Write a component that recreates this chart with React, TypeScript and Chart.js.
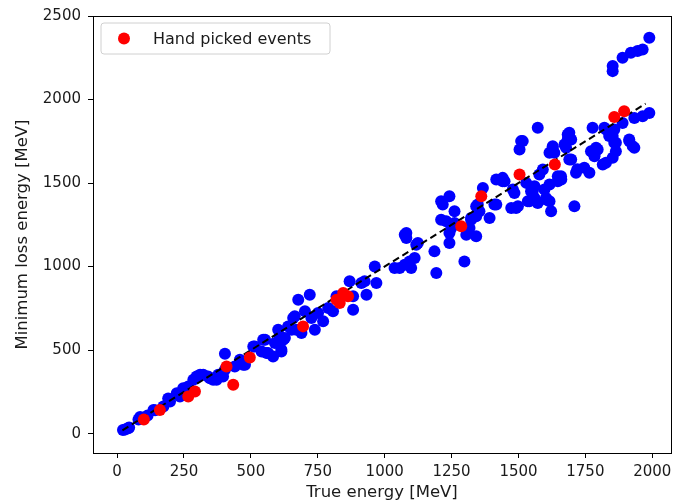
import React, { useEffect, useRef } from "react";
import { Chart, registerables } from "chart.js";

Chart.register(...registerables);

const xTicks = [0, 250, 500, 750, 1000, 1250, 1500, 1750, 2000];
const yTicks = [0, 500, 1000, 1500, 2000, 2500];

const blueX = [22,30,42,45,80,86,114,136,142,173,191,198,223,235,247,260,266,285,297,303,310,322,340,347,359,372,378,384,396,403,403,440,459,471,478,509,515,540,546,553,559,564,583,590,602,608,614,614,621,627,639,652,658,664,670,677,689,702,720,726,739,751,770,789,807,820,869,882,882,913,925,932,963,969,1037,1056,1075,1093,1099,1112,1075,1081,1081,1118,1124,1186,1193,1211,1211,1217,1230,1242,1242,1242,1249,1261,1261,1298,1305,1317,1323,1323,1342,1342,1342,1348,1354,1367,1392,1410,1417,1417,1441,1441,1448,1473,1479,1485,1491,1498,1504,1510,1516,1529,1535,1541,1547,1553,1560,1560,1566,1572,1572,1578,1591,1597,1603,1603,1616,1616,1616,1622,1628,1628,1634,1647,1647,1659,1660,1672,1678,1684,1684,1690,1690,1697,1697,1709,1715,1720,1746,1765,1771,1777,1784,1784,1790,1796,1815,1821,1827,1827,1839,1852,1852,1858,1858,1864,1864,1889,1914,1914,1927,1933,1933,1964,1989,1852,1852,1889,1920,1945,1964,1989];
const blueY = [22,24,32,36,84,100,108,142,140,162,210,192,242,222,272,272,282,322,342,342,352,352,342,332,322,322,352,352,342,382,478,402,442,412,412,522,522,492,562,562,482,482,462,542,622,582,502,492,562,572,642,622,692,702,622,802,602,732,832,692,622,722,672,752,732,822,912,742,822,902,912,832,1001,902,991,991,1011,1031,991,1051,1191,1171,1201,1131,1141,1091,961,1391,1281,1371,1271,1201,1141,1421,1231,1331,1261,1031,1191,1231,1291,1281,1181,1361,1301,1371,1331,1471,1291,1371,1521,1371,1511,1531,1511,1351,1461,1441,1351,1361,1701,1751,1751,1501,1391,1391,1451,1451,1481,1411,1391,1831,1381,1551,1581,1461,1401,1411,1491,1681,1391,1331,1721,1711,1681,1541,1511,1541,1521,1731,1711,1791,1761,1801,1641,1641,1761,1361,1561,1583,1591,1561,1691,1831,1661,1671,1711,1701,1611,1831,1621,1821,1781,1651,1781,1741,1821,1691,1741,1860,1751,1761,1721,1711,1890,1900,1920,2200,2170,2250,2280,2290,2300,2370];

const redX = [100,160,266,291,409,434,496,695,820,832,845,863,1286,1361,1504,1636,1858,1895];
const redY = [84,142,222,252,402,292,456,642,802,782,842,822,1241,1421,1551,1611,1895,1930];

const lineX = [20, 1975];
const lineY = [20, 1975];

const legendLabel = "Hand picked events";
const xTitle = "True energy [MeV]";
const yTitle = "Minimum loss energy [MeV]";

const FONT = "'DejaVu Sans', sans-serif";
const TEXT = "#1a1a1a";

const framePlugin = {
  id: "frame",
  afterDraw(chart: any) {
    const { ctx, chartArea } = chart;
    ctx.save();
    ctx.strokeStyle = "#000";
    ctx.lineWidth = 1;
    ctx.strokeRect(
      Math.round(chartArea.left) + 0.5,
      Math.round(chartArea.top) + 0.5,
      Math.round(chartArea.right - chartArea.left),
      Math.round(chartArea.bottom - chartArea.top)
    );
    // legend
    const lx = chartArea.left + 8;
    const ly = chartArea.top + 7;
    const lw = 229;
    const lh = 31;
    const r = 3;
    ctx.beginPath();
    ctx.moveTo(lx + r, ly);
    ctx.lineTo(lx + lw - r, ly);
    ctx.arcTo(lx + lw, ly, lx + lw, ly + r, r);
    ctx.lineTo(lx + lw, ly + lh - r);
    ctx.arcTo(lx + lw, ly + lh, lx + lw - r, ly + lh, r);
    ctx.lineTo(lx + r, ly + lh);
    ctx.arcTo(lx, ly + lh, lx, ly + lh - r, r);
    ctx.lineTo(lx, ly + r);
    ctx.arcTo(lx, ly, lx + r, ly, r);
    ctx.closePath();
    ctx.fillStyle = "rgba(255,255,255,0.8)";
    ctx.fill();
    ctx.strokeStyle = "#d0d0d0";
    ctx.stroke();
    ctx.beginPath();
    ctx.arc(lx + 23, ly + lh / 2, 6, 0, Math.PI * 2);
    ctx.fillStyle = "#ff0000";
    ctx.fill();
    ctx.fillStyle = TEXT;
    ctx.font = "16px " + FONT;
    ctx.textBaseline = "middle";
    ctx.textAlign = "left";
    ctx.fillText(legendLabel, lx + 52, ly + lh / 2 + 1);
    ctx.restore();
  },
};

export default function App() {
  const ref = useRef<HTMLCanvasElement | null>(null);
  useEffect(() => {
    if (!ref.current) return;
    const blue = blueX.map((x, i) => ({ x, y: blueY[i] }));
    const red = redX.map((x, i) => ({ x, y: redY[i] }));
    const line = lineX.map((x, i) => ({ x, y: lineY[i] }));
    const chart = new Chart(ref.current, {
      type: "scatter",
      data: {
        datasets: [
          {
            label: legendLabel,
            data: red,
            backgroundColor: "#ff0000",
            borderWidth: 0,
            pointRadius: 6,
            order: 0,
          },
          {
            type: "line",
            label: "fit",
            data: line,
            borderColor: "#000",
            borderWidth: 2,
            borderDash: [7, 4],
            pointRadius: 0,
            fill: false,
            order: 1,
          } as any,
          {
            label: "all",
            data: blue,
            backgroundColor: "#0000ff",
            borderWidth: 0,
            pointRadius: 6,
            order: 2,
          },
        ],
      },
      options: {
        responsive: false,
        animation: false,
        devicePixelRatio: 1,
        layout: { padding: { top: 15, right: 8, left: 0, bottom: 0 } },
        plugins: { legend: { display: false }, tooltip: { enabled: false } },
        scales: {
          x: {
            type: "linear",
            min: -90,
            max: 2070,
            afterBuildTicks: (s: any) => {
              s.ticks = xTicks.map((v) => ({ value: v }));
            },
            afterFit: (s: any) => {
              s.height = 50;
            },
            grid: {
              drawOnChartArea: false,
              drawTicks: true,
              tickLength: 5,
              color: "#000",
            },
            border: { display: true, color: "#000" },
            ticks: {
              color: TEXT,
              font: { family: FONT, size: 15 },
              padding: 5,
              maxRotation: 0,
              autoSkip: false,
              callback: (v: any) => String(v),
            },
            title: {
              display: true,
              text: xTitle,
              color: TEXT,
              font: { family: FONT, size: 16.5 },
              padding: { top: 0, bottom: 0 },
            },
          },
          y: {
            type: "linear",
            min: -116,
            max: 2500,
            afterBuildTicks: (s: any) => {
              s.ticks = yTicks.map((v) => ({ value: v }));
            },
            afterFit: (s: any) => {
              s.width = 93;
            },
            grid: {
              drawOnChartArea: false,
              drawTicks: true,
              tickLength: 5,
              color: "#000",
            },
            border: { display: true, color: "#000" },
            ticks: {
              color: TEXT,
              font: { family: FONT, size: 15 },
              padding: 7,
              autoSkip: false,
              callback: (v: any) => String(v),
            },
            title: {
              display: true,
              text: yTitle,
              color: TEXT,
              font: { family: FONT, size: 16.5 },
              padding: { top: 13, bottom: 0 },
            },
          },
        },
      },
      plugins: [framePlugin],
    });
    return () => chart.destroy();
  }, []);
  return (
    <div style={{ position: "fixed", left: 0, top: 0, width: 679, height: 503, background: "#fff" }}>
      <canvas ref={ref} width={679} height={503} style={{ display: "block" }} />
    </div>
  );
}
